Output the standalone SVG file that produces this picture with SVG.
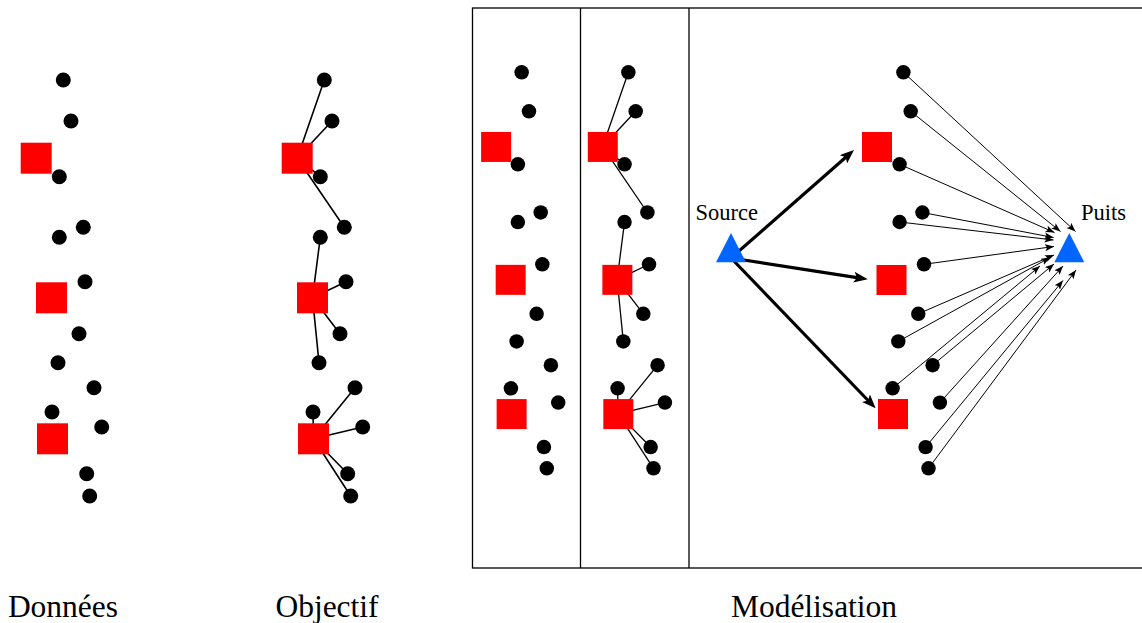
<svg xmlns="http://www.w3.org/2000/svg" width="1142" height="623" viewBox="0 0 1142 623">
<style>
.dot{fill:#000}
.sq{fill:#ff0000}
.tri{fill:#0066ff}
.ln{stroke:#000;stroke-width:1.6;fill:none}
.ln2{stroke:#000;stroke-width:1.35;fill:none}
.thick{stroke:#000;stroke-width:3.2;fill:none;marker-end:url(#ahBig)}
.thin{stroke:#000;stroke-width:1;fill:none;marker-end:url(#ahSmall)}
.frame{stroke:#000;stroke-width:1.3;fill:none}
.lbl{font-family:"Liberation Serif","Times New Roman",serif;font-size:31.5px;fill:#000;text-anchor:middle}
.small{font-family:"Liberation Serif","Times New Roman",serif;font-size:22.5px;fill:#000}
</style>
<defs>
<marker id="ahBig" markerUnits="userSpaceOnUse" markerWidth="15" markerHeight="11" refX="8" refY="5.5" orient="auto"><path d="M0,0 L14,5.5 L0,11 L3,5.5 z" fill="#000"/></marker>
<marker id="ahSmall" markerUnits="userSpaceOnUse" markerWidth="10" markerHeight="8" refX="9" refY="3.5" orient="auto"><path d="M0,0 L9,3.5 L0,7 L2,3.5 z" fill="#000"/></marker>
</defs>
<rect width="1142" height="623" fill="#fff"/>

<g id="frame">
<rect class="frame" x="472.5" y="8" width="672" height="560"/>
<line class="frame" x1="580.5" y1="8" x2="580.5" y2="568"/>
<line class="frame" x1="689" y1="8" x2="689" y2="568"/>
</g>

<g id="connectors">
<g id="conn-objectif" transform="translate(261,0)">
<path class="ln" d="M36.2,158.2 L63.3,80 M36.2,158.2 L71,121 M36.2,158.2 L59.3,176.7 M36.2,158.2 L83.3,227.3 M51.5,297.8 L59.3,237.3 M51.5,297.8 L85,281.7 M51.5,297.8 L79,333.7 M51.5,297.8 L58,362.7 M52.5,438.8 L94,387.7 M52.5,438.8 L52,412 M52.5,438.8 L101.7,427 M52.5,438.8 L86.7,473.7 M52.5,438.8 L89.7,496"/>
</g>
<g id="conn-panel3b" transform="matrix(0.952 0 0 0.952 568.1 -3.9)">
<path class="ln2" d="M36.2,158.2 L63.3,80 M36.2,158.2 L71,121 M36.2,158.2 L59.3,176.7 M36.2,158.2 L83.3,227.3 M51.5,297.8 L59.3,237.3 M51.5,297.8 L85,281.7 M51.5,297.8 L79,333.7 M51.5,297.8 L58,362.7 M52.5,438.8 L94,387.7 M52.5,438.8 L52,412 M52.5,438.8 L101.7,427 M52.5,438.8 L86.7,473.7 M52.5,438.8 L89.7,496"/>
</g>
<g id="conn-model">
<line class="thick" x1="731" y1="258" x2="849.5" y2="154"/>
<line class="thick" x1="731" y1="258" x2="861.8" y2="278.4"/>
<line class="thick" x1="731" y1="258" x2="871.5" y2="404"/>
<line class="thin" x1="903.4" y1="72.3" x2="1075.5" y2="231.5"/>
<line class="thin" x1="910.7" y1="111.3" x2="1060.5" y2="231.5"/>
<line class="thin" x1="899.6" y1="164.3" x2="1054.5" y2="232.5"/>
<line class="thin" x1="922.4" y1="212.5" x2="1053.5" y2="237.5"/>
<line class="thin" x1="899.6" y1="222" x2="1053.5" y2="240"/>
<line class="thin" x1="924" y1="264.3" x2="1054" y2="246.5"/>
<line class="thin" x1="918.3" y1="313.8" x2="1054" y2="255"/>
<line class="thin" x1="898.3" y1="341.4" x2="1050" y2="257.5"/>
<line class="thin" x1="892.6" y1="388.3" x2="1040" y2="266"/>
<line class="thin" x1="932.6" y1="365.2" x2="1054" y2="264"/>
<line class="thin" x1="939.9" y1="402.6" x2="1063" y2="266"/>
<line class="thin" x1="925.6" y1="447.1" x2="1063" y2="280.5"/>
<line class="thin" x1="928.5" y1="468.3" x2="1076" y2="270"/>
</g>
</g>

<g id="panel-donnees">
<g id="p1-d1"><circle class="dot" cx="63.3" cy="80" r="7.5"/></g>
<g id="p1-d2"><circle class="dot" cx="71" cy="121" r="7.5"/></g>
<g id="p1-d3"><circle class="dot" cx="59.3" cy="176.7" r="7.5"/></g>
<g id="p1-d4"><circle class="dot" cx="83.3" cy="227.3" r="7.5"/></g>
<g id="p1-d5"><circle class="dot" cx="59.3" cy="237.3" r="7.5"/></g>
<g id="p1-d6"><circle class="dot" cx="85" cy="281.7" r="7.5"/></g>
<g id="p1-d7"><circle class="dot" cx="79" cy="333.7" r="7.5"/></g>
<g id="p1-d8"><circle class="dot" cx="58" cy="362.7" r="7.5"/></g>
<g id="p1-d9"><circle class="dot" cx="94" cy="387.7" r="7.5"/></g>
<g id="p1-d10"><circle class="dot" cx="52" cy="412" r="7.5"/></g>
<g id="p1-d11"><circle class="dot" cx="101.7" cy="427" r="7.5"/></g>
<g id="p1-d12"><circle class="dot" cx="86.7" cy="473.7" r="7.5"/></g>
<g id="p1-d13"><circle class="dot" cx="89.7" cy="496" r="7.5"/></g>
<g id="p1-s1"><rect class="sq" x="20.7" y="142.7" width="31" height="31"/></g>
<g id="p1-s2"><rect class="sq" x="36" y="282.3" width="31" height="31"/></g>
<g id="p1-s3"><rect class="sq" x="37" y="423.3" width="31" height="31"/></g>
</g>

<g id="panel-objectif" transform="translate(261,0)">
<g id="p2-s1"><rect class="sq" x="20.7" y="142.7" width="31" height="31"/></g>
<g id="p2-s2"><rect class="sq" x="36" y="282.3" width="31" height="31"/></g>
<g id="p2-s3"><rect class="sq" x="37" y="423.3" width="31" height="31"/></g>
<g id="p2-d1"><circle class="dot" cx="63.3" cy="80" r="7.5"/></g>
<g id="p2-d2"><circle class="dot" cx="71" cy="121" r="7.5"/></g>
<g id="p2-d3"><circle class="dot" cx="59.3" cy="176.7" r="7.5"/></g>
<g id="p2-d4"><circle class="dot" cx="83.3" cy="227.3" r="7.5"/></g>
<g id="p2-d5"><circle class="dot" cx="59.3" cy="237.3" r="7.5"/></g>
<g id="p2-d6"><circle class="dot" cx="85" cy="281.7" r="7.5"/></g>
<g id="p2-d7"><circle class="dot" cx="79" cy="333.7" r="7.5"/></g>
<g id="p2-d8"><circle class="dot" cx="58" cy="362.7" r="7.5"/></g>
<g id="p2-d9"><circle class="dot" cx="94" cy="387.7" r="7.5"/></g>
<g id="p2-d10"><circle class="dot" cx="52" cy="412" r="7.5"/></g>
<g id="p2-d11"><circle class="dot" cx="101.7" cy="427" r="7.5"/></g>
<g id="p2-d12"><circle class="dot" cx="86.7" cy="473.7" r="7.5"/></g>
<g id="p2-d13"><circle class="dot" cx="89.7" cy="496" r="7.5"/></g>
</g>

<g id="panel-3a" transform="matrix(0.952 0 0 0.952 461.4 -3.9)">
<g id="p3-d1"><circle class="dot" cx="63.3" cy="80" r="7.6"/></g>
<g id="p3-d2"><circle class="dot" cx="71" cy="121" r="7.6"/></g>
<g id="p3-d3"><circle class="dot" cx="59.3" cy="176.7" r="7.6"/></g>
<g id="p3-d4"><circle class="dot" cx="83.3" cy="227.3" r="7.6"/></g>
<g id="p3-d5"><circle class="dot" cx="59.3" cy="237.3" r="7.6"/></g>
<g id="p3-d6"><circle class="dot" cx="85" cy="281.7" r="7.6"/></g>
<g id="p3-d7"><circle class="dot" cx="79" cy="333.7" r="7.6"/></g>
<g id="p3-d8"><circle class="dot" cx="58" cy="362.7" r="7.6"/></g>
<g id="p3-d9"><circle class="dot" cx="94" cy="387.7" r="7.6"/></g>
<g id="p3-d10"><circle class="dot" cx="52" cy="412" r="7.6"/></g>
<g id="p3-d11"><circle class="dot" cx="101.7" cy="427" r="7.6"/></g>
<g id="p3-d12"><circle class="dot" cx="86.7" cy="473.7" r="7.6"/></g>
<g id="p3-d13"><circle class="dot" cx="89.7" cy="496" r="7.6"/></g>
<g id="p3-s1"><rect class="sq" x="20.7" y="142.7" width="31.5" height="31.5"/></g>
<g id="p3-s2"><rect class="sq" x="36" y="282.3" width="31.5" height="31.5"/></g>
<g id="p3-s3"><rect class="sq" x="37" y="423.3" width="31.5" height="31.5"/></g>
</g>

<g id="panel-3b" transform="matrix(0.952 0 0 0.952 568.1 -3.9)">
<g id="p4-s1"><rect class="sq" x="20.7" y="142.7" width="31.5" height="31.5"/></g>
<g id="p4-s2"><rect class="sq" x="36" y="282.3" width="31.5" height="31.5"/></g>
<g id="p4-s3"><rect class="sq" x="37" y="423.3" width="31.5" height="31.5"/></g>
<g id="p4-d1"><circle class="dot" cx="63.3" cy="80" r="7.6"/></g>
<g id="p4-d2"><circle class="dot" cx="71" cy="121" r="7.6"/></g>
<g id="p4-d3"><circle class="dot" cx="59.3" cy="176.7" r="7.6"/></g>
<g id="p4-d4"><circle class="dot" cx="83.3" cy="227.3" r="7.6"/></g>
<g id="p4-d5"><circle class="dot" cx="59.3" cy="237.3" r="7.6"/></g>
<g id="p4-d6"><circle class="dot" cx="85" cy="281.7" r="7.6"/></g>
<g id="p4-d7"><circle class="dot" cx="79" cy="333.7" r="7.6"/></g>
<g id="p4-d8"><circle class="dot" cx="58" cy="362.7" r="7.6"/></g>
<g id="p4-d9"><circle class="dot" cx="94" cy="387.7" r="7.6"/></g>
<g id="p4-d10"><circle class="dot" cx="52" cy="412" r="7.6"/></g>
<g id="p4-d11"><circle class="dot" cx="101.7" cy="427" r="7.6"/></g>
<g id="p4-d12"><circle class="dot" cx="86.7" cy="473.7" r="7.6"/></g>
<g id="p4-d13"><circle class="dot" cx="89.7" cy="496" r="7.6"/></g>
</g>

<g id="panel-model">
<g id="m-source"><polygon class="tri" points="731,233 716,262.3 746,262.3"/><text class="small" x="695.5" y="220">Source</text></g>
<g id="m-puits"><polygon class="tri" points="1069.3,233 1054.3,262.3 1084.3,262.3"/><text class="small" x="1081" y="220">Puits</text></g>
<g id="m-s1"><rect class="sq" x="862" y="132" width="30" height="30"/></g>
<g id="m-s2"><rect class="sq" x="876.5" y="265" width="30" height="30"/></g>
<g id="m-s3"><rect class="sq" x="878" y="399" width="30" height="30"/></g>
<g id="m-d1"><circle class="dot" cx="903.4" cy="72.3" r="7.2"/></g>
<g id="m-d2"><circle class="dot" cx="910.7" cy="111.3" r="7.2"/></g>
<g id="m-d3"><circle class="dot" cx="899.6" cy="164.3" r="7.2"/></g>
<g id="m-d4"><circle class="dot" cx="922.4" cy="212.5" r="7.2"/></g>
<g id="m-d5"><circle class="dot" cx="899.6" cy="222" r="7.2"/></g>
<g id="m-d6"><circle class="dot" cx="924" cy="264.3" r="7.2"/></g>
<g id="m-d7"><circle class="dot" cx="918.3" cy="313.8" r="7.2"/></g>
<g id="m-d8"><circle class="dot" cx="898.3" cy="341.4" r="7.2"/></g>
<g id="m-d9"><circle class="dot" cx="932.6" cy="365.2" r="7.2"/></g>
<g id="m-d10"><circle class="dot" cx="892.6" cy="388.3" r="7.2"/></g>
<g id="m-d11"><circle class="dot" cx="939.9" cy="402.6" r="7.2"/></g>
<g id="m-d12"><circle class="dot" cx="925.6" cy="447.1" r="7.2"/></g>
<g id="m-d13"><circle class="dot" cx="928.5" cy="468.3" r="7.2"/></g>
</g>

<g id="labels">
<text class="lbl" x="63" y="617">Données</text>
<text class="lbl" x="327" y="617">Objectif</text>
<text class="lbl" x="814" y="617">Modélisation</text>
</g>
</svg>
